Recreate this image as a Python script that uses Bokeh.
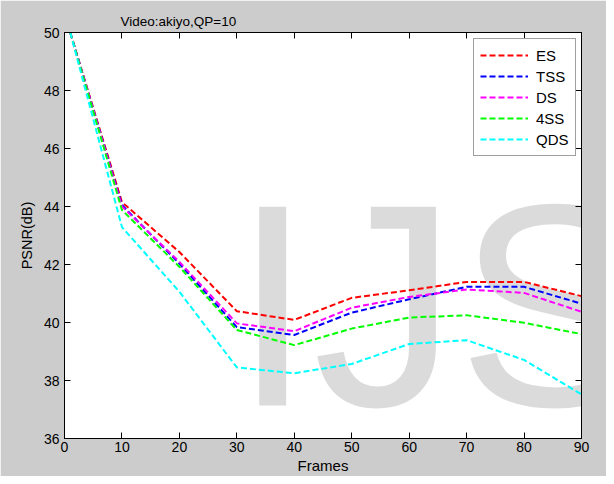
from bokeh.plotting import figure
from bokeh.models import Range1d, LinearAxis, Label, Legend, LegendItem, FixedTicker
from bokeh.embed import file_html
from bokeh.resources import INLINE

frames = [1, 10, 20, 30, 40, 50, 60, 70, 80, 90]
es   = [50.0, 44.15, 42.43, 40.39, 40.09, 40.85, 41.11, 41.40, 41.40, 40.91]
tss  = [50.0, 44.05, 42.03, 39.84, 39.57, 40.34, 40.80, 41.23, 41.23, 40.65]
ds   = [50.0, 44.00, 42.09, 39.97, 39.70, 40.51, 40.88, 41.14, 41.02, 40.37]
ss4  = [50.0, 43.88, 41.92, 39.74, 39.22, 39.79, 40.17, 40.25, 39.99, 39.60]
qds  = [50.0, 43.29, 41.06, 38.45, 38.25, 38.57, 39.26, 39.39, 38.71, 37.52]
series_names = ["ES", "TSS", "DS", "4SS", "QDS"]
series_colors = ["#ff0000", "#0000ff", "#ff00ff", "#00ff00", "#00ffff"]
x_ticks = [0, 10, 20, 30, 40, 50, 60, 70, 80, 90]
y_ticks = [36, 38, 40, 42, 44, 46, 48, 50]

FONT = "Liberation Sans"

p = figure(width=606, height=476, output_backend="svg", toolbar_location=None,
           x_range=Range1d(0, 90), y_range=Range1d(36, 50),
           min_border_left=64, min_border_right=25, min_border_top=32, min_border_bottom=37,
           border_fill_color="#cccccc", background_fill_color="#ffffff",
           outline_line_color="#000000", outline_line_width=1)
p.grid.visible = False

p.title.text = "Video:akiyo,QP=10"
p.title.align = "left"
p.title.offset = 56
p.title.text_font = FONT
p.title.text_font_size = "13.5px"
p.title.text_font_style = "normal"
p.title.text_color = "#000000"
p.title.standoff = 4
p.title.vertical_align = "top"
p.title.text_line_height = 1.0

def style_axis(ax, show_labels=True):
    ax.major_tick_in = 6
    ax.major_tick_out = 0
    ax.minor_tick_line_color = None
    ax.axis_line_color = "#000000"
    ax.major_tick_line_color = "#000000"
    ax.major_label_text_font = FONT
    ax.major_label_text_font_size = "14px"
    ax.major_label_text_color = "#000000"
    if not show_labels:
        ax.major_label_text_alpha = 0
        ax.major_label_text_font_size = "1px"
        ax.major_label_standoff = 0

p.xaxis.ticker = FixedTicker(ticks=x_ticks)
p.yaxis.ticker = FixedTicker(ticks=y_ticks)
style_axis(p.xaxis[0])
style_axis(p.yaxis[0])
p.xaxis.major_label_standoff = 3
p.xaxis.major_label_text_line_height = 1.0
p.xaxis.axis_label = "Frames"
p.xaxis.axis_label_text_font = FONT
p.xaxis.axis_label_text_font_size = "15px"
p.xaxis.axis_label_text_font_style = "normal"
p.xaxis.axis_label_text_color = "#000000"
p.xaxis.axis_label_standoff = 2
p.xaxis.axis_label_text_line_height = 0.9

p.yaxis.major_label_standoff = 5
p.yaxis.axis_label = "PSNR(dB)"
p.yaxis.axis_label_text_font = FONT
p.yaxis.axis_label_text_font_size = "14.5px"
p.yaxis.axis_label_text_font_style = "normal"
p.yaxis.axis_label_text_color = "#000000"
p.yaxis.axis_label_standoff = 6

top_ax = LinearAxis(ticker=FixedTicker(ticks=x_ticks))
style_axis(top_ax, show_labels=False)
p.add_layout(top_ax, "above")
right_ax = LinearAxis(ticker=FixedTicker(ticks=y_ticks))
style_axis(right_ax, show_labels=False)
p.add_layout(right_ax, "right")

# watermark
wm = Label(x=29.25, y=40.6, text="IJS", text_font=FONT, text_font_size="289px",
           text_color="#000000", text_alpha=0.14, text_align="left",
           text_baseline="alphabetic", level="underlay")
p.add_layout(wm)

items = []
for name, col, ys in zip(series_names, series_colors, [es, tss, ds, ss4, qds]):
    r = p.line(frames, ys, line_color=col, line_width=2, line_dash="6 3")
    items.append(LegendItem(label=name, renderers=[r]))

legend = Legend(items=items, location=(409, 282), padding=6, spacing=1,
                glyph_width=48, glyph_height=20, label_height=20, label_standoff=8,
                label_text_font=FONT, label_text_font_size="15px", label_text_color="#000000",
                border_line_color="#404040", border_line_width=1,
                background_fill_color="#ffffff", background_fill_alpha=1.0,
                margin=0)
p.add_layout(legend)

open("out.html", "w").write(file_html(p, INLINE))
